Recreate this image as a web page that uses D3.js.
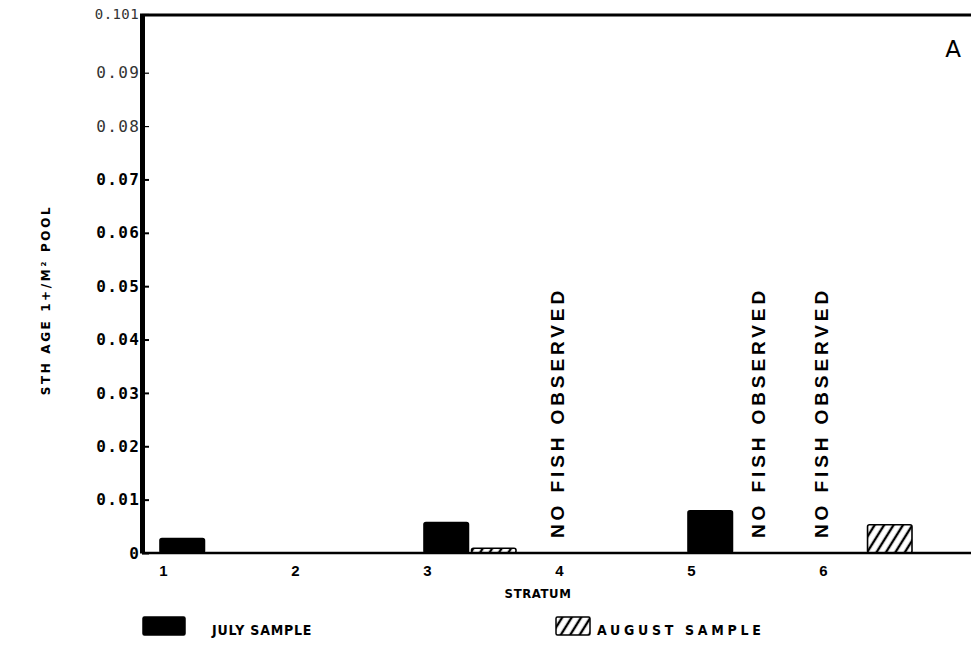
<!DOCTYPE html>
<html>
<head>
<meta charset="utf-8">
<script src="https://cdn.jsdelivr.net/npm/d3@7"></script>
<style>
  body { margin: 0; background: #fff; }
  svg { display: block; }
</style>
</head>
<body>
<svg id="chart" width="971" height="649"></svg>
<script>
// Steelhead age 1+ density per square metre of pool, by stratum
const strata = ["1", "2", "3", "4", "5", "6"];
const series = ["JULY SAMPLE", "AUGUST SAMPLE"];
const julyDensity   = [0.0027, 0, 0.0057, null, 0.0079, null];
const augustDensity = [0, 0, 0.0009, null, null, 0.0053];
const yTickValues = [0, 0.01, 0.02, 0.03, 0.04, 0.05, 0.06, 0.07, 0.08, 0.09, 0.101];
const yTickLabels = ["0", "0.01", "0.02", "0.03", "0.04", "0.05", "0.06", "0.07", "0.08", "0.09", "0.101"];
// strata where no fish were seen; "center" = whole stratum, otherwise the missing sample
const noFishNotes = [
  { stratum: "4", slot: "center" },
  { stratum: "5", slot: "AUGUST SAMPLE" },
  { stratum: "6", slot: "center" }
];
const noFishText = "NO FISH OBSERVED";
const yTitle = "STH AGE 1+/M\u00B2 POOL";
const xTitle = "STRATUM";
const panelLetter = "A";

const plot = { left: 142, right: 971, top: 14, bottom: 553 };

const svg = d3.select("#chart");

// hatching for the August sample
const defs = svg.append("defs");
defs.append("pattern")
  .attr("id", "hatch")
  .attr("patternUnits", "userSpaceOnUse")
  .attr("width", 8).attr("height", 8)
  .attr("patternTransform", "rotate(32)")
  .append("line")
  .attr("x1", 4).attr("y1", -2).attr("x2", 4).attr("y2", 10)
  .attr("stroke", "#000").attr("stroke-width", 2.4);

const y = d3.scaleLinear().domain([0, 0.101]).range([plot.bottom, plot.top]);
const x = d3.scalePoint().domain(strata).range([163, 823]);
const sub = d3.scaleBand().domain(series).range([-3, 89]).paddingInner(0.065);

const fills = { "JULY SAMPLE": "#000", "AUGUST SAMPLE": "url(#hatch)" };

// bars
const barData = [];
strata.forEach((s, i) => {
  [julyDensity[i], augustDensity[i]].forEach((v, j) => {
    if (v !== null && v > 0) barData.push({ stratum: s, series: series[j], value: v });
  });
});

svg.append("g").selectAll("rect")
  .data(barData)
  .join("rect")
  .attr("x", d => x(d.stratum) + sub(d.series))
  .attr("width", sub.bandwidth())
  .attr("y", d => y(d.value))
  .attr("height", d => y(0) - y(d.value))
  .attr("rx", 2)
  .attr("fill", d => fills[d.series])
  .attr("stroke", "#000")
  .attr("stroke-width", 1.6);

// baseline, frame top and y axis line
svg.append("line")
  .attr("x1", plot.left).attr("x2", plot.right)
  .attr("y1", y(0)).attr("y2", y(0))
  .attr("stroke", "#000").attr("stroke-width", 2.5);
svg.append("line")
  .attr("x1", plot.left - 2).attr("x2", plot.right)
  .attr("y1", 15).attr("y2", 15)
  .attr("stroke", "#000").attr("stroke-width", 3);

// y axis
const yAxis = d3.axisLeft(y)
  .tickValues(yTickValues)
  .tickFormat((d, i) => yTickLabels[i])
  .tickSize(-7)
  .tickSizeOuter(0)
  .tickPadding(3);

const gy = svg.append("g")
  .attr("transform", `translate(${plot.left},0)`)
  .call(yAxis);
gy.select(".domain").attr("stroke", "#000").attr("stroke-width", 5);
gy.selectAll(".tick line")
  .attr("stroke", "#000")
  .attr("stroke-width", d => d >= 0.08 ? 1.2 : 2);
gy.selectAll(".tick text")
  .attr("font-family", "'DejaVu Sans Mono', monospace")
  .attr("font-size", d => d > 0.1 ? 14 : 16)
  .attr("fill", d => d >= 0.08 ? "#333" : "#000")
  .attr("font-weight", d => d >= 0.08 ? "normal" : "bold")
  .attr("letter-spacing", d => d > 0.1 ? 0.4 : 1.4)
  .attr("dx", d => d > 0.1 ? 0 : 1.4);

// x axis labels
const xAxis = d3.axisBottom(x).tickSize(0).tickPadding(12);
const gx = svg.append("g")
  .attr("transform", `translate(0,${plot.bottom})`)
  .call(xAxis);
gx.select(".domain").remove();
gx.selectAll(".tick text")
  .attr("font-family", "'Liberation Sans', Arial, sans-serif")
  .attr("font-weight", "bold")
  .attr("font-size", 15)
  .attr("fill", "#000");

// no fish notes
svg.append("g").selectAll("text")
  .data(noFishNotes)
  .join("text")
  .attr("transform", d => {
    const cx = d.slot === "center" ? x(d.stratum) - 2 : x(d.stratum) + sub(d.slot) + sub.bandwidth() / 2;
    return `translate(${cx},${y(0) - 15}) rotate(-90)`;
  })
  .attr("dy", "0.36em")
  .attr("font-family", "'Liberation Sans', Arial, sans-serif")
  .attr("font-weight", "bold")
  .attr("font-size", 19)
  .attr("letter-spacing", 3.9)
  .attr("fill", "#000")
  .text(noFishText);

// axis titles
svg.append("text")
  .attr("x", 538).attr("y", 598)
  .attr("text-anchor", "middle")
  .attr("font-family", "'DejaVu Sans Condensed', 'DejaVu Sans', sans-serif")
  .attr("font-weight", "bold")
  .attr("font-size", 13)
  .attr("letter-spacing", 0.6)
  .text(xTitle);

svg.append("text")
  .attr("transform", "translate(50,300) rotate(-90)")
  .attr("text-anchor", "middle")
  .attr("font-family", "'DejaVu Sans', sans-serif")
  .attr("font-weight", "bold")
  .attr("font-size", 12)
  .attr("letter-spacing", 2.6)
  .text(yTitle);

// panel letter
svg.append("text")
  .attr("x", 953).attr("y", 57)
  .attr("text-anchor", "middle")
  .attr("font-family", "'DejaVu Sans', sans-serif")
  .attr("font-size", 23)
  .text(panelLetter);

// legend
const legendItems = [
  { key: "JULY SAMPLE", x: 143, w: 42, textX: 212, spacing: 0.8 },
  { key: "AUGUST SAMPLE", x: 556, w: 34, textX: 597, spacing: 3.7 }
];
const lg = svg.append("g");
lg.selectAll("rect")
  .data(legendItems)
  .join("rect")
  .attr("x", d => d.x).attr("y", 617)
  .attr("width", d => d.w).attr("height", 18)
  .attr("rx", 1.5)
  .attr("fill", d => fills[d.key])
  .attr("stroke", "#000").attr("stroke-width", 1.5);
lg.selectAll("text")
  .data(legendItems)
  .join("text")
  .attr("x", d => d.textX).attr("y", 635)
  .attr("font-family", "'DejaVu Sans Condensed', 'DejaVu Sans', sans-serif")
  .attr("font-weight", "bold")
  .attr("font-size", 14)
  .attr("letter-spacing", d => d.spacing)
  .text(d => d.key);
</script>
</body>
</html>
